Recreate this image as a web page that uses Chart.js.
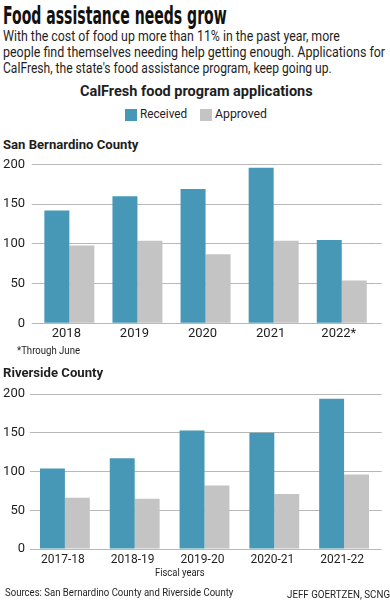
<!DOCTYPE html>
<html>
<head>
<meta charset="utf-8">
<script src="https://cdn.jsdelivr.net/npm/chart.js@4/dist/chart.umd.min.js"></script>
<style>
  html, body { margin: 0; padding: 0; background: #fff; }
  #page { position: relative; width: 390px; height: 600px; overflow: hidden; font-family: Roboto, sans-serif; color: #1e1e1e; }
  .t { position: absolute; white-space: nowrap; line-height: 1; transform-origin: left top; }
  .sw { position: absolute; width: 12px; height: 12px; }
  .box { position: absolute; left: 0; width: 390px; }
</style>
</head>
<body>
<div id="page">
  <span class="t" data-x="3" data-cap="5" data-w="224" style="font: bold 24px 'Liberation Sans Narrow','DejaVu Sans Condensed',sans-serif; color:#111;">Food assistance needs grow</span>
  <span class="t" data-x="3" data-cap="30.5" data-w="337" style="font-size:14px;">With the cost of food up more than 11% in the past year, more</span>
  <span class="t" data-x="3" data-cap="46.5" data-w="382" style="font-size:14px;">people find themselves needing help getting enough. Applications for</span>
  <span class="t" data-x="3" data-cap="62.5" data-w="329" style="font-size:14px;">CalFresh, the state's food assistance program, keep going up.</span>
  <span class="t" data-x="80" data-cap="87.3" data-w="233" style="font-size:14.5px; font-weight:bold;">CalFresh food program applications</span>

  <div class="sw" style="left:125px; top:109px; background:#4797b6;"></div>
  <span class="t" data-x="140" data-cap="110" data-w="47" style="font-size:12.5px;">Received</span>
  <div class="sw" style="left:200px; top:109px; background:#c4c4c4;"></div>
  <span class="t" data-x="215" data-cap="110" data-w="52" style="font-size:12.5px;">Approved</span>

  <span class="t" data-x="3" data-cap="139.3" data-w="135" style="font-size:13px; font-weight:bold;">San Bernardino County</span>
  <div class="box" style="top:150px; height:200px;"><canvas id="sbChart"></canvas></div>
  <span class="t" data-x="17" data-cap="347" data-w="63" style="font-size:10.5px;">*Through June</span>

  <span class="t" data-x="3" data-cap="367.3" data-w="100" style="font-size:13px; font-weight:bold;">Riverside County</span>
  <div class="box" style="top:380px; height:200px;"><canvas id="rvChart"></canvas></div>
  <span class="t" data-x="155" data-cap="568.3" data-w="50" style="font-size:11.5px;">Fiscal years</span>

  <span class="t" data-x="5" data-cap="588.5" data-w="228" style="font-size:11px;">Sources: San Bernardino County and Riverside County</span>
  <span class="t" data-x="287" data-cap="590" data-w="103" style="font-size:11px;">JEFF GOERTZEN, SCNG</span>
</div>
<script>
// data (thousands of applications)
const sbYears = ['2018', '2019', '2020', '2021', '2022*'];
const sbReceived = [142, 160, 169, 196, 105];
const sbApproved = [98, 104, 87, 104, 54];

const rvYears = ['2017-18', '2018-19', '2019-20', '2020-21', '2021-22'];
const rvReceived = [104, 117, 153, 150, 194];
const rvApproved = [66, 65, 82, 71, 96];

const yMax = 200;
const yStep = 50;

const BLUE = '#4797b6';
const GRAY = '#c4c4c4';
const GRID = '#b8b8b8';

// place html text by cap top and squeeze it to the measured width
document.querySelectorAll('.t').forEach(el => {
    const size = parseFloat(getComputedStyle(el).fontSize);
    el.style.left = el.dataset.x + 'px';
    el.style.top = (parseFloat(el.dataset.cap) - 0.13 * size) + 'px';
    const k = parseFloat(el.dataset.w) / el.offsetWidth;
    el.style.transform = `scaleX(${k})`;
});

Chart.defaults.font.family = 'Roboto, sans-serif';
Chart.defaults.color = '#1e1e1e';

// geometry per panel: chart area edges inside a 390x200 box
const makeChart = (id, labels, received, approved, g) => {
    const ctx = document.getElementById(id).getContext('2d');
    return new Chart(ctx, {
        type: 'bar',
        data: {
            labels: labels,
            datasets: [
                { label: 'Received', data: received, backgroundColor: BLUE, categoryPercentage: g.cat, barPercentage: 1 },
                { label: 'Approved', data: approved, backgroundColor: GRAY, categoryPercentage: g.cat, barPercentage: 1 }
            ]
        },
        options: {
            responsive: true,
            maintainAspectRatio: false,
            animation: false,
            layout: { padding: { top: g.top, right: 390 - g.gridRight, left: 0, bottom: 0 } },
            plugins: { legend: { display: false }, tooltip: { enabled: false } },
            scales: {
                x: {
                    grid: { display: false, drawTicks: false },
                    border: { display: false },
                    ticks: { font: { size: g.xFont }, padding: g.xPad, labelOffset: g.labelOffset, maxRotation: 0 },
                    afterFit: (s) => { s.height = 200 - g.bottom; }
                },
                y: {
                    min: 0, max: yMax,
                    grid: { color: GRID, lineWidth: 1, drawTicks: true, tickLength: g.left - g.gridLeft },
                    border: { display: false },
                    ticks: { stepSize: yStep, font: { size: 13 }, padding: g.left - (g.left - g.gridLeft) - 25 },
                    afterFit: (s) => { s.width = g.left; }
                },
                y2: {
                    position: 'right',
                    min: 0, max: yMax,
                    grid: { color: GRID, lineWidth: 1, drawOnChartArea: false, drawTicks: true, tickLength: g.gridRight - g.right },
                    border: { display: false },
                    ticks: { stepSize: yStep, display: false }
                }
            }
        }
    });
};

makeChart('sbChart', sbYears, sbReceived, sbApproved, {
    top: 14.3, bottom: 173.3, left: 35.3, right: 375.8, gridLeft: 31.7, gridRight: 381.7,
    cat: 0.734, xFont: 13, xPad: 3, labelOffset: -3
});
makeChart('rvChart', rvYears, rvReceived, rvApproved, {
    top: 14, bottom: 169, left: 30, right: 379, gridLeft: 30, gridRight: 381.7,
    cat: 0.714, xFont: 12, xPad: 4, labelOffset: -2
});
</script>
</body>
</html>
